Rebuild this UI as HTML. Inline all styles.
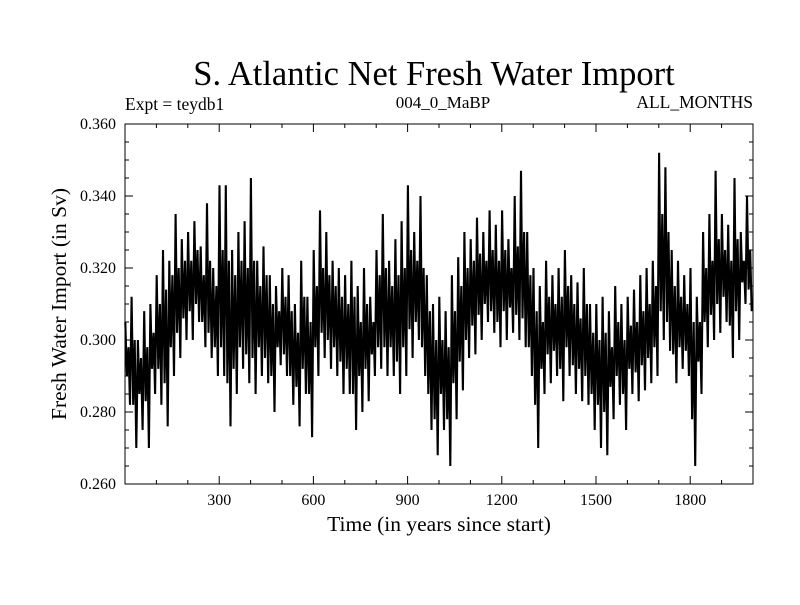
<!DOCTYPE html>
<html><head><meta charset="utf-8"><style>
body{margin:0;background:#fff}
svg text{font-family:"Liberation Serif",serif;fill:#000}
</style></head><body>
<svg width="800" height="600" xmlns="http://www.w3.org/2000/svg">
<rect width="800" height="600" fill="#fff"/>
<text x="434" y="85" font-size="34.5" text-anchor="middle">S. Atlantic Net Fresh Water Import</text>
<text x="125" y="110" font-size="17.5">Expt = teydb1</text>
<text x="443" y="108" font-size="17" text-anchor="middle">004_0_MaBP</text>
<text x="753" y="108" font-size="17.5" text-anchor="end">ALL_MONTHS</text>
<text transform="translate(66,304) rotate(-90)" font-size="21.5" text-anchor="middle">Fresh Water Import (in Sv)</text>
<text x="439" y="531" font-size="21.5" text-anchor="middle">Time (in years since start)</text>
<g id="ticks"></g>
<g id="series"></g>
<rect x="125" y="124" width="628" height="360" fill="none" stroke="#000" stroke-width="1"/>
</svg>
<script>
const xTicks=[300,600,900,1200,1500,1800];
const yTicks=[0.260,0.280,0.300,0.320,0.340,0.360];
const binYears=[];for(let i=0;i<100;i++)binYears.push(i*20);
const hiVals=[305,312,300,308,310,318,325,322,335,328,330,333,326,338,320,343,343,325,330,333,345,322,326,318,315,320,318,310,322,312,325,336,330,322,320,318,322,315,320,312,325,335,322,328,333,343,330,340,318,310,312,308,318,323,330,328,334,330,336,332,336,328,340,347,330,320,315,322,318,320,325,318,316,320,310,310,312,308,315,310,312,314,318,320,322,352,348,325,322,318,320,312,330,335,347,335,332,345,330,340];
const loVals=[282,270,275,270,285,282,276,290,295,300,300,305,298,295,290,290,276,285,292,288,285,290,288,280,293,290,282,276,285,273,290,295,292,290,285,285,275,280,283,290,292,290,290,285,290,295,300,290,275,268,275,265,278,286,295,296,300,305,302,298,300,302,300,298,290,270,285,288,290,283,290,285,283,282,275,270,268,278,282,275,285,283,286,288,290,300,297,288,292,290,265,285,298,300,302,305,295,300,310,308];
const hi2Vals=[298,300,295,298,302,310,314,318,320,322,322,325,318,322,315,325,322,318,322,320,322,315,318,310,308,312,308,302,312,305,315,320,318,315,312,310,312,305,310,305,318,320,315,318,320,325,322,320,308,300,300,298,308,315,320,322,324,322,325,322,325,320,326,330,318,308,305,312,310,312,315,310,306,310,302,300,302,298,305,300,304,305,308,310,315,335,330,315,312,310,305,305,320,322,328,325,322,328,322,325];
const lo2Vals=[290,282,285,283,292,292,288,298,302,306,308,310,305,302,298,298,288,292,298,296,295,298,295,290,298,296,290,287,292,285,298,302,300,298,294,292,285,290,292,296,298,298,298,294,298,303,305,298,285,278,285,278,288,294,300,304,307,310,308,305,308,309,307,306,298,282,292,296,297,292,298,293,292,290,285,282,280,287,290,285,292,291,293,295,298,308,305,296,298,297,278,294,305,307,310,312,304,308,316,314];
const X=v=>125+(v/2000)*628;
const Y=v=>124+(0.360-v)/0.100*360;
const NS="http://www.w3.org/2000/svg";
const tg=document.getElementById('ticks');
function line(x1,y1,x2,y2,name){const l=document.createElementNS(NS,'line');
l.setAttribute('x1',x1);l.setAttribute('y1',y1);l.setAttribute('x2',x2);l.setAttribute('y2',y2);l.setAttribute('stroke','#000');


tg.appendChild(l);}
function txt(x,y,s,anchor,name){const t=document.createElementNS(NS,'text');t.setAttribute('x',x);t.setAttribute('y',y);t.setAttribute('font-size','16');t.setAttribute('text-anchor',anchor);t.textContent=s;


tg.appendChild(t);}
for(let v=100;v<2000;v+=100){const maj=v%300===0;const L=maj?8:4;const x=X(v);
line(x,484,x,484-L,'x-tick');line(x,124,x,124+L,'x-tick-top');}
xTicks.forEach(v=>txt(X(v),505,String(v),'middle','x-tick-label'));
for(let k=0;k<=20;k++){const v=0.260+k*0.005;const maj=k%4===0;const L=maj?8:4;const y=Y(v);
line(125,y,125+L,y,'y-tick');line(753,y,753-L,y,'y-tick-right');}
yTicks.forEach(v=>txt(116,Y(v)+5,v.toFixed(3),'end','y-tick-label'));
let pts=[];
binYears.forEach((yr,i)=>{
pts.push(X(yr+1).toFixed(1)+','+Y(hiVals[i]/1000).toFixed(1));
pts.push(X(yr+6).toFixed(1)+','+Y(lo2Vals[i]/1000).toFixed(1));
pts.push(X(yr+11).toFixed(1)+','+Y(hi2Vals[i]/1000).toFixed(1));
pts.push(X(yr+16).toFixed(1)+','+Y(loVals[i]/1000).toFixed(1));});
const p=document.createElementNS(NS,'polyline');
p.setAttribute('points',pts.join(' '));p.setAttribute('fill','none');p.setAttribute('stroke','#000');p.setAttribute('stroke-width','2.1');


document.getElementById('series').appendChild(p);
</script>
</body></html>
